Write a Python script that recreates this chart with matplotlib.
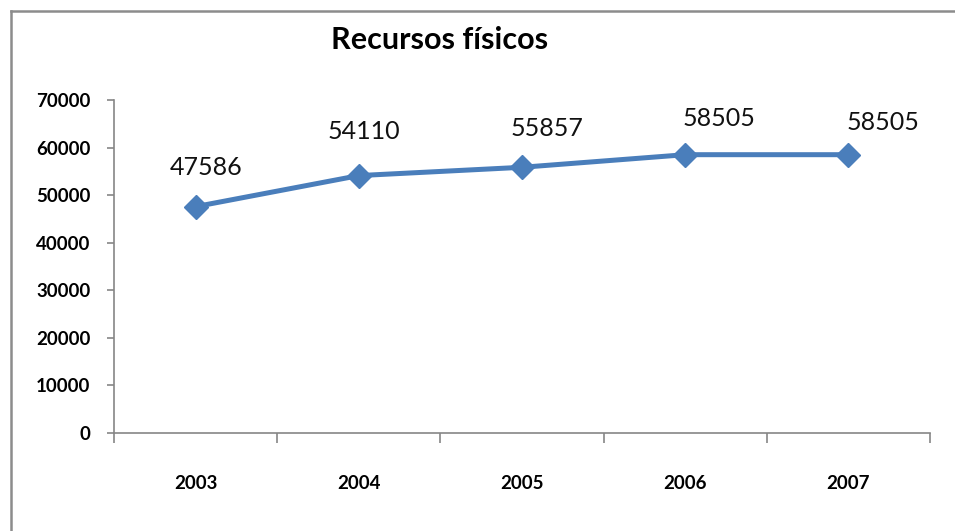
import matplotlib
matplotlib.use("Agg")
import matplotlib.pyplot as plt
from matplotlib.lines import Line2D

years = ["2003", "2004", "2005", "2006", "2007"]
values = [47586, 54110, 55857, 58505, 58505]
yticks = [0, 10000, 20000, 30000, 40000, 50000, 60000, 70000]
title = "Recursos físicos"

# label offsets in pixels (layout only)
label_offsets = [(11, 39), (5, 44), (25, 39), (34, 36), (35, 32)]

plt.rcParams['font.family'] = ['Lato', 'DejaVu Sans']

fig = plt.figure(figsize=(9.55, 5.31), dpi=100)
ax = fig.add_axes([114/955, 1-433/531, 816/955, 333/531])

xs = list(range(len(years)))
color = "#4A7EBB"
ax.plot(xs, values, color=color, lw=3.6, marker="D", markersize=12,
        markerfacecolor=color, markeredgecolor=color, solid_joinstyle="round")

for x, v, (dx, dy) in zip(xs, values, label_offsets):
    ax.annotate(str(v), (x, v), xytext=(dx, dy), textcoords="offset pixels",
                ha="center", va="center", fontsize=18, color="#111111")

ax.set_xlim(-0.5, len(years) - 0.5)
ax.set_ylim(0, 70000)
ax.set_yticks(yticks)
ax.set_yticklabels([str(t) for t in yticks], fontsize=13.5, fontweight="bold")

ax.set_xticks([i - 0.5 for i in range(len(years) + 1)])
ax.set_xticklabels([])
ax.set_xticks(xs, minor=True)
ax.set_xticklabels(years, minor=True, fontsize=13.5, fontweight="bold")
ax.tick_params(axis="x", which="major", direction="out", length=7, width=1.2, color="#868686")
ax.tick_params(axis="x", which="minor", length=0, pad=30)
ax.tick_params(axis="y", direction="out", length=5, width=1.2, color="#868686", pad=12)

for s in ["top", "right"]:
    ax.spines[s].set_visible(False)
for s in ["left", "bottom"]:
    ax.spines[s].set_color("#868686")
    ax.spines[s].set_linewidth(1.2)

fig.text(440/955, 1-40/531, title, ha="center", va="center", fontsize=22, fontweight="bold")

# chart frame (left and top edges visible)
fig.add_artist(Line2D([11/955, 11/955], [0, 1-11/531], transform=fig.transFigure, color="#8C8C8C", lw=1.8))
fig.add_artist(Line2D([11/955, 1], [1-11/531, 1-11/531], transform=fig.transFigure, color="#8C8C8C", lw=1.8))

fig.savefig("out.png", dpi=100, facecolor="white")
